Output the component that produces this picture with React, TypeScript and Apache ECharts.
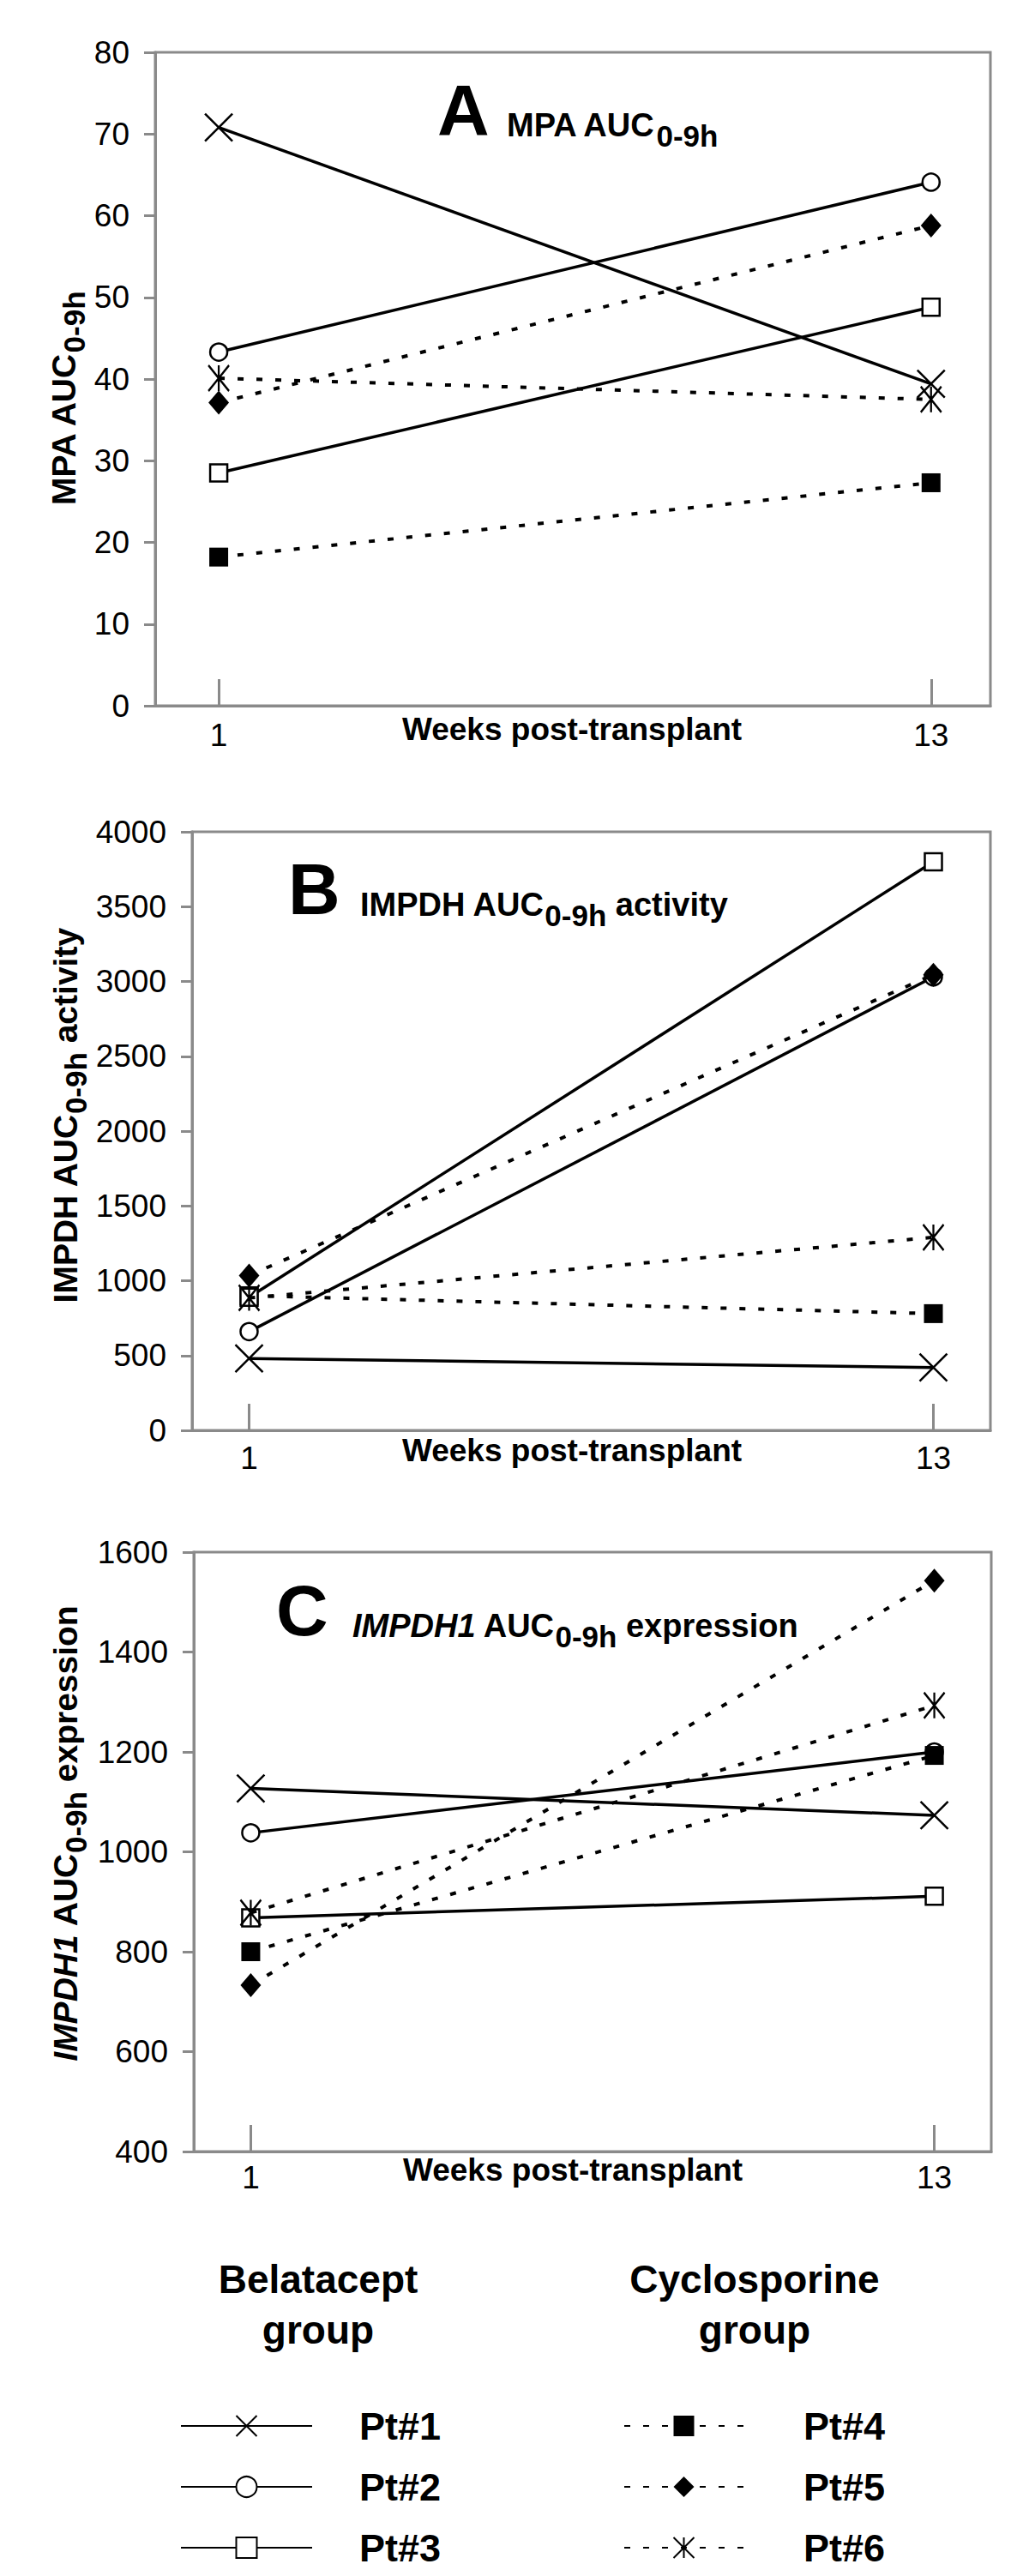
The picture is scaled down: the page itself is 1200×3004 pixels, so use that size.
import React, { useEffect, useRef } from 'react';
import * as echarts from 'echarts';

// ---------------- DATA ----------------
const weeks = [1, 13];
const belataceptPatients = ['Pt#1', 'Pt#2', 'Pt#3'];
const cyclosporinePatients = ['Pt#4', 'Pt#5', 'Pt#6'];
const patientNames = [...belataceptPatients, ...cyclosporinePatients];

// Panel A: MPA AUC0-9h
const mpaWeek1 = [70.8, 43.3, 28.5, 18.2, 37.1, 40.1];
const mpaWeek13 = [39.4, 64.1, 48.8, 27.3, 58.8, 37.5];
const mpaTicks = [0, 80, 10];

// Panel B: IMPDH AUC0-9h activity
const impdhWeek1 = [480, 660, 890, 900, 1035, 885];
const impdhWeek13 = [420, 3030, 3800, 780, 3045, 1290];
const impdhTicks = [0, 4000, 500];

// Panel C: IMPDH1 AUC0-9h expression
const exprWeek1 = [1127, 1038, 868, 800, 733, 878];
const exprWeek13 = [1073, 1200, 911, 1193, 1543, 1293];
const exprTicks = [400, 1600, 200];

const xAxisTitle = 'Weeks post-transplant';
const groupTitles = ['Belatacept\ngroup', 'Cyclosporine\ngroup'];

// ---------------- STYLE / LAYOUT ----------------
const FONT = "'Liberation Sans', Arial, Helvetica, sans-serif";
const GRAY = '#8a8a8a';
const X_PATH = 'path://M0,0L20,20M20,0L0,20';
const AST_PATH = 'path://M0,0L20,24M20,0L0,24M10,0L10,24';
const DASH = [7, 15];

const patientStyles: any[] = [
  { symbol: X_PATH, symbolSize: 32, item: { color: 'transparent', borderColor: '#000', borderWidth: 2.5 }, line: 'solid' },
  { symbol: 'circle', symbolSize: 20, item: { color: '#fff', borderColor: '#000', borderWidth: 2.5 }, line: 'solid' },
  { symbol: 'rect', symbolSize: 20, item: { color: '#fff', borderColor: '#000', borderWidth: 2.5 }, line: 'solid' },
  { symbol: 'rect', symbolSize: 22, item: { color: '#000', borderWidth: 0 }, line: DASH },
  { symbol: 'diamond', symbolSize: [24, 28], item: { color: '#000', borderWidth: 0 }, line: DASH },
  { symbol: AST_PATH, symbolSize: [24, 30], item: { color: 'transparent', borderColor: '#000', borderWidth: 2.5 }, line: DASH },
];

const panelLayout = [
  { left: 181, top: 61, width: 974, height: 762, xMin: -0.07, xMax: 14, xLabelMargin: 16, z: [2, 2, 2, 3, 3, 3] },
  { left: 224, top: 970, width: 931, height: 698, xMin: 0, xMax: 14, xLabelMargin: 14, z: [2, 2, 2, 1, 3, 3] },
  { left: 226, top: 1810, width: 930, height: 699, xMin: 0, xMax: 14, xLabelMargin: 12, z: [2, 2, 2, 3, 3, 3] },
];

const panelData = [
  { w1: mpaWeek1, w13: mpaWeek13, ticks: mpaTicks },
  { w1: impdhWeek1, w13: impdhWeek13, ticks: impdhTicks },
  { w1: exprWeek1, w13: exprWeek13, ticks: exprTicks },
];

const titleRich = {
  m: { fontSize: 38, fontWeight: 'bold', fontFamily: FONT, lineHeight: 60, color: '#000' },
  i: { fontSize: 38, fontWeight: 'bold', fontStyle: 'italic', fontFamily: FONT, lineHeight: 60, color: '#000' },
  s: { fontSize: 35, fontWeight: 'bold', fontFamily: FONT, lineHeight: 40, verticalAlign: 'bottom', color: '#000' },
};
const nameRich = {
  m: { fontSize: 39, fontWeight: 'bold', fontFamily: FONT, lineHeight: 60, color: '#000' },
  i: { fontSize: 39, fontWeight: 'bold', fontStyle: 'italic', fontFamily: FONT, lineHeight: 60, color: '#000' },
  s: { fontSize: 35, fontWeight: 'bold', fontFamily: FONT, lineHeight: 40, verticalAlign: 'bottom', color: '#000' },
};

const panelLetters = [
  { text: 'A', x: 510, y: 129 },
  { text: 'B', x: 336, y: 1037 },
  { text: 'C', x: 322, y: 1878 },
];
const panelSubtitles = [
  { text: '{m|MPA AUC}{s|0-9h}', x: 591, y: 146 },
  { text: '{m|IMPDH AUC}{s|0-9h}{m| activity}', x: 420, y: 1055 },
  { text: '{i|IMPDH1}{m| AUC}{s|0-9h}{m| expression}', x: 411, y: 1896 },
];
const yNames = [
  { text: '{m|MPA AUC}{s|0-9h}', x: 74, y: 465 },
  { text: '{m|IMPDH AUC}{s|0-9h}{m| activity}', x: 76, y: 1301 },
  { text: '{i|IMPDH1}{m| AUC}{s|0-9h}{m| expression}', x: 76, y: 2138 },
];
const xNamePos = [
  { x: 667, y: 850 },
  { x: 667, y: 1691 },
  { x: 668, y: 2530 },
];

const plain = (v: number) => String(v);

function buildOption() {
  const grid = panelLayout.map((p) => ({
    left: p.left, top: p.top, width: p.width, height: p.height,
    show: true, borderColor: GRAY, borderWidth: 3, backgroundColor: 'transparent',
  }));
  const xAxis = panelLayout.map((p, i) => ({
    type: 'value', gridIndex: i, min: p.xMin, max: p.xMax,
    axisLine: { show: true, onZero: false, lineStyle: { color: GRAY, width: 3 } },
    axisTick: { show: true, inside: true, length: 31, customValues: weeks, lineStyle: { color: GRAY, width: 3 } },
    axisLabel: { show: true, customValues: weeks, formatter: plain, margin: p.xLabelMargin, fontSize: 37, lineHeight: 37, color: '#000', fontFamily: FONT },
    splitLine: { show: false },
  }));
  const yAxis = panelData.map((d, i) => ({
    type: 'value', gridIndex: i, min: d.ticks[0], max: d.ticks[1], interval: d.ticks[2],
    axisLine: { show: true, onZero: false, lineStyle: { color: GRAY, width: 3 } },
    axisTick: { show: true, length: 13, lineStyle: { color: GRAY, width: 3 } },
    axisLabel: { margin: 30, formatter: plain, fontSize: 37, color: '#000', fontFamily: FONT },
    splitLine: { show: false },
  }));
  const series: any[] = [];
  panelData.forEach((d, p) => {
    patientNames.forEach((name, k) => {
      const st = patientStyles[k];
      const solid = st.line === 'solid';
      series.push({
        type: 'line', name, xAxisIndex: p, yAxisIndex: p,
        data: [[weeks[0], d.w1[k]], [weeks[1], d.w13[k]]],
        symbol: st.symbol, symbolSize: st.symbolSize, showSymbol: true,
        itemStyle: st.item,
        lineStyle: { color: '#000', width: solid ? 3.5 : 4, type: st.line },
        emphasis: { disabled: true },
        z: panelLayout[p].z[k],
      });
    });
  });

  const graphic: any[] = [];
  panelLetters.forEach((l) => graphic.push({
    type: 'text', x: l.x, y: l.y,
    style: { text: l.text, fill: '#000', fontSize: 84, fontWeight: 'bold', fontFamily: FONT, align: 'left', verticalAlign: 'middle' },
  }));
  panelSubtitles.forEach((t) => graphic.push({
    type: 'text', x: t.x, y: t.y,
    style: { text: t.text, rich: titleRich, fill: '#000', align: 'left', verticalAlign: 'middle' },
  }));
  yNames.forEach((t) => graphic.push({
    type: 'text', x: t.x, y: t.y, rotation: Math.PI / 2,
    style: { text: t.text, rich: nameRich, fill: '#000', align: 'center', verticalAlign: 'middle' },
  }));
  xNamePos.forEach((t) => graphic.push({
    type: 'text', x: t.x, y: t.y,
    style: { text: xAxisTitle, fill: '#000', fontSize: 37, fontWeight: 'bold', fontFamily: FONT, align: 'center', verticalAlign: 'middle' },
  }));
  [371, 880].forEach((x, i) => graphic.push({
    type: 'text', x, y: 2687,
    style: { text: groupTitles[i], fill: '#000', fontSize: 46, fontWeight: 'bold', fontFamily: FONT, lineHeight: 59, align: 'center', verticalAlign: 'middle' },
  }));

  const legendBase = {
    orient: 'vertical', top: 2804, padding: 0, itemHeight: 30, itemGap: 21, selectedMode: false,
  };
  const legend = [
    {
      ...legendBase, left: 210, itemWidth: 153, data: belataceptPatients,
      textStyle: { fontSize: 45, fontWeight: 'bold', color: '#000', fontFamily: FONT, lineHeight: 50, padding: [0, 0, 0, 50] },
    },
    {
      ...legendBase, left: 727, itemWidth: 139, data: cyclosporinePatients,
      textStyle: { fontSize: 45, fontWeight: 'bold', color: '#000', fontFamily: FONT, lineHeight: 50, padding: [0, 0, 0, 65] },
    },
  ];

  return {
    animation: false,
    backgroundColor: '#fff',
    grid, xAxis, yAxis, series, graphic, legend,
  };
}

export default function App() {
  const ref = useRef<HTMLDivElement>(null);
  useEffect(() => {
    if (!ref.current) return;
    const chart = echarts.init(ref.current, undefined, { renderer: 'svg' });
    chart.setOption(buildOption() as any);
    return () => chart.dispose();
  }, []);
  return (
    <div
      ref={ref}
      style={{ position: 'absolute', left: 0, top: 0, width: 1200, height: 3004, background: '#fff' }}
    />
  );
}
